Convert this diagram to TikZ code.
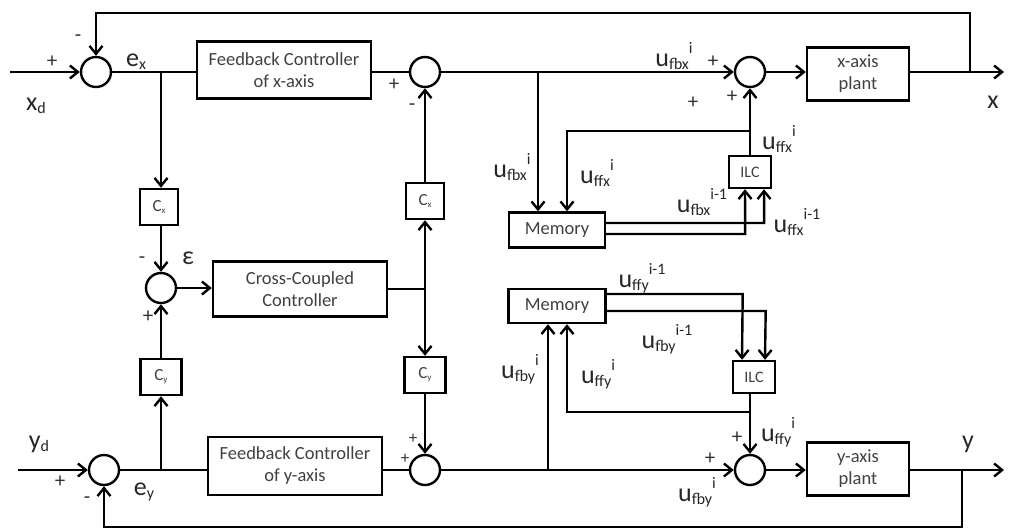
\documentclass[tikz,border=0pt]{standalone}
\usepackage{fontspec}
\setmainfont{Carlito}
\usetikzlibrary{arrows.meta}
\newcommand{\ulab}[3]{#1\raisebox{-3pt}{\fontsize{16}{16}\selectfont #2}\raisebox{13pt}{\fontsize{16}{16}\selectfont #3}}
\newcommand{\csub}[2]{#1\raisebox{-2pt}{\fontsize{9}{9}\selectfont #2}}
\begin{document}
\begin{tikzpicture}[x=1pt,y=-1pt,line width=2.4pt,
  box/.style={draw,line width=2.4pt,align=center,inner sep=0pt,font=\fontsize{18.5}{22}\selectfont,text=black!75},
  sbox/.style={draw,line width=2.4pt,inner sep=0pt,font=\fontsize{17}{17}\selectfont,text=black!75},
  sum/.style={draw,circle,minimum size=30pt,inner sep=0pt},
  arr/.style={-{Straight Barb[length=8pt,width=13pt,line width=2.4pt]}},
  lbl/.style={font=\fontsize{26}{28}\selectfont,inner sep=0pt,text=black!85},
  sgn/.style={font=\fontsize{21}{23}\selectfont,inner sep=0pt,text=black!80}]
\useasboundingbox (0,0) rectangle (1010,531);
% ---- nodes ----
\node[sum] (s1) at (96,72) {};
\node[box,minimum width=174,minimum height=57] (fbx) at (284,70) {Feedback Controller\\of x-axis};
\node[sum] (s2) at (425,72) {};
\node[sum] (s3) at (750,72) {};
\node[box,minimum width=102,minimum height=53] (xpl) at (858,74) {x-axis\\plant};
\node[sbox,minimum width=38,minimum height=36] (cx1) at (159,207) {\csub{C}{x}};
\node[sbox,minimum width=38,minimum height=36] (cx2) at (425,201) {\csub{C}{x}};
\node[sum] (se) at (161,288) {};
\node[box,minimum width=174,minimum height=55] (cc) at (300,289) {Cross-Coupled\\Controller};
\node[sbox,minimum width=41,minimum height=36] (cy1) at (161,377) {\csub{C}{y}};
\node[sbox,minimum width=41,minimum height=36] (cy2) at (425,375) {\csub{C}{y}};
\node[sum] (t1) at (104,470) {};
\node[box,minimum width=174,minimum height=58] (fby) at (295,466) {Feedback Controller\\of y-axis};
\node[sum] (t2) at (425,470) {};
\node[sum] (t3) at (750,470) {};
\node[box,minimum width=102,minimum height=53] (ypl) at (858,469) {y-axis\\plant};
\node[box,minimum width=96,minimum height=35] (memx) at (557,230) {Memory};
\node[box,minimum width=42,minimum height=32,font=\fontsize{16}{16}\selectfont] (ilcx) at (750,172) {ILC};
\node[box,minimum width=97,minimum height=34] (memy) at (557,306) {Memory};
\node[box,minimum width=42,minimum height=32,font=\fontsize{16}{16}\selectfont] (ilcy) at (754,377) {ILC};
% ---- coordinates ----
\coordinate (xin) at (10,72);
\coordinate (yin) at (18,470);
\coordinate (bx) at (161,72);
\coordinate (by) at (161,470);
\coordinate (ccj) at (425,289);
\coordinate (xo) at (1004,72);
\coordinate (yo) at (1004,470);
\coordinate (xfb) at (970,72);
\coordinate (yfb) at (962,470);
\coordinate (xtop) at (970,13);
\coordinate (ybot) at (962,527);
\coordinate (mxb) at (538,72);
\coordinate (ixj) at (750,131);
\coordinate (ixl) at (567,131);
\coordinate (iyj) at (750,412);
\coordinate (iyl) at (567,412);
\coordinate (myb) at (548,470);
% ---- x loop ----
\draw[arr] (xin) -- (s1);
\draw (s1) -- (s1 -| fbx.west);
\draw (fbx.east |- s2) -- (s2);
\draw[arr] (bx) -- (cx1.north -| bx);
\draw[arr] (cx1.south -| se) -- (se);
\draw[arr] (se) -- (se -| cc.west);
\draw (cc.east |- ccj) -- (ccj);
\draw[arr] (ccj) -- (cx2);
\draw[arr] (ccj) -- (cy2);
\draw[arr] (cx2) -- (s2);
\draw[arr] (cy2) -- (t2);
\draw[arr] (cy1.north -| se) -- (se);
\draw[arr] (by) -- (cy1.south -| by);
\draw[arr] (s2) -- (s3);
\draw[arr] (s3) -- (s3 -| xpl.west);
\draw[arr] (xpl.east |- xo) -- (xo);
\draw[arr] (xfb) -- (xtop) -- (xtop -| s1) -- (s1);
% ---- y loop ----
\draw[arr] (yin) -- (t1);
\draw (t1) -- (t1 -| fby.west);
\draw (fby.east |- t2) -- (t2);
\draw[arr] (t2) -- (t3);
\draw[arr] (t3) -- (t3 -| ypl.west);
\draw[arr] (ypl.east |- yo) -- (yo);
\draw[arr] (yfb) -- (ybot) -- (ybot -| t1) -- (t1);
% ---- x ILC ----
\draw[arr] (mxb) -- (mxb |- memx.north);
\draw[arr] (ilcx.north -| s3) -- (s3);
\draw[arr] (ixj) -- (ixl) -- (ixl |- memx.north);
\draw[arr] ([yshift=-4pt]memx.east) -- ++(139,0) -- ([xshift=-5pt]ilcx.south);
\draw[arr] ([yshift=7pt]memx.east) -- ++(158,0) -- ([xshift=14pt]ilcx.south);
% ---- y ILC ----
\draw[arr] (myb) -- (myb |- memy.south);
\draw[arr] (ilcy.south -| t3) -- (t3);
\draw[arr] (iyj) -- (iyl) -- (iyl |- memy.south);
\draw[arr] ([yshift=-5pt]memy.east) -- ++(159,0) -- ([xshift=11pt]ilcy.north);
\draw[arr] ([yshift=12pt]memy.east) -- ++(136,0) -- ([xshift=-12pt]ilcy.north);
% ---- labels ----
\node[sgn] (p1) at (52,62) {+};
\node[sgn] (m1) at (78,38) {-};
\node[lbl] (ex) at (136,62) {e\raisebox{-3pt}{\fontsize{16}{16}\selectfont x}};
\node[lbl] (xd) at (36,106) {x\raisebox{-3pt}{\fontsize{16}{16}\selectfont d}};
\node[sgn] (p2) at (394,85) {+};
\node[sgn] (m2) at (412,107) {-};
\node[sgn] (m3) at (142,260) {-};
\node[lbl] (eps) at (188,258) {ε};
\node[sgn] (p3) at (148,317) {+};
\node[sgn] (p4) at (60,482) {+};
\node[sgn] (m4) at (87,500) {-};
\node[lbl] (ey) at (144,492) {e\raisebox{-3pt}{\fontsize{16}{16}\selectfont y}};
\node[lbl] (yd) at (39,444) {y\raisebox{-3pt}{\fontsize{16}{16}\selectfont d}};
\node[sgn,font=\fontsize{17}{17}\selectfont] (p5) at (413,439) {+};
\node[sgn,font=\fontsize{17}{17}\selectfont] (p6) at (405,459) {+};
\node[lbl] (l1) at (674,56) {\ulab{u}{fbx}{i}};
\node[sgn] (p7) at (713,62) {+};
\node[sgn] (p8) at (693,103) {+};
\node[sgn] (p9) at (732,97) {+};
\node[lbl] (xl) at (993,102) {x};
\node[lbl] (l2) at (779,139) {\ulab{u}{ffx}{i}};
\node[lbl] (l3) at (597,173) {\ulab{u}{ffx}{i}};
\node[lbl] (l4) at (512,167) {\ulab{u}{fbx}{i}};
\node[lbl] (l5) at (702,202) {\ulab{u}{fbx}{i-1}};
\node[lbl] (l6) at (797,222) {\ulab{u}{ffx}{i-1}};
\node[lbl] (l7) at (642,278) {\ulab{u}{ffy}{i-1}};
\node[lbl] (l8) at (667,339) {\ulab{u}{fby}{i-1}};
\node[lbl] (l9) at (520,369) {\ulab{u}{fby}{i}};
\node[lbl] (l10) at (598,374) {\ulab{u}{ffy}{i}};
\node[sgn] (p10) at (737,438) {+};
\node[lbl] (l11) at (778,432) {\ulab{u}{ffy}{i}};
\node[sgn] (p11) at (710,459) {+};
\node[lbl] (l12) at (697,492) {\ulab{u}{fby}{i}};
\node[lbl] (yl) at (968,444) {y};
\end{tikzpicture}
\end{document}
